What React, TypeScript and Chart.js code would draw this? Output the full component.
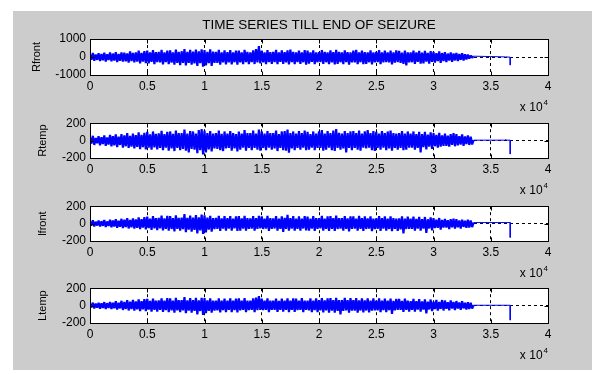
import React, { useEffect, useRef } from "react";
import { Chart, registerables } from "chart.js";

Chart.register(...registerables);

// ---------------- data ----------------
const TITLE = "TIME SERIES TILL END OF SEIZURE";
const CHANNELS = ["Rfront", "Rtemp", "lfront", "Ltemp"];
const X_TICK_LABELS = ["0", "0.5", "1", "1.5", "2", "2.5", "3", "3.5", "4"];
const X_MAX = 40000;
const X_STEP = 5000;
const EXP_BASE = "x 10";
const EXP_POWER = "4";
const Y_RANGES = [1000, 200, 200, 200];
const SAMPLE_STEP = 250; // one max/min pair read every 250 samples (0 .. 33500)

// per-window maxima / minima of the dense signal
const RFRONT_HI = [
  150, 220, 140, 210, 170, 240, 150, 250, 190, 270, 170, 260, 240, 200, 310, 230,
  250, 360, 230, 320, 350, 250, 380, 270, 280, 390, 250, 350, 370, 260, 410, 290,
  320, 440, 290, 390, 300, 410, 310, 430, 380, 290, 420, 300, 280, 400, 260, 370,
  270, 380, 260, 350, 360, 260, 390, 280, 260, 370, 440, 610, 360, 260, 380, 270,
  280, 390, 260, 370, 270, 370, 410, 280, 260, 360, 250, 380, 350, 250, 370, 260,
  270, 380, 280, 260, 370, 270, 400, 290, 260, 370, 270, 250, 360, 390, 260, 350,
  270, 250, 370, 260, 280, 380, 260, 360, 250, 350, 260, 370, 340, 240, 360, 260,
  260, 350, 250, 340, 240, 340, 230, 330, 290, 210, 310, 220, 270, 190, 250, 200,
  230, 170, 210, 150, 130, 80, 45,
];
const RFRONT_LO = [
  -150, -210, -160, -230, -180, -250, -170, -240, -200, -280, -210, -250, -240, -310, -230, -300,
  -260, -350, -250, -340, -360, -270, -390, -280, -300, -410, -280, -390, -310, -430, -320, -450,
  -330, -470, -320, -430, -350, -490, -340, -530, -460, -340, -500, -330, -320, -430, -300, -410,
  -300, -410, -290, -420, -300, -400, -290, -390, -280, -390, -300, -360, -300, -400, -280, -380,
  -290, -390, -270, -380, -300, -410, -290, -390, -280, -380, -290, -430, -370, -270, -390, -290,
  -280, -380, -290, -390, -300, -410, -380, -290, -390, -290, -430, -300, -300, -400, -290, -390,
  -380, -290, -410, -300, -290, -390, -300, -280, -300, -410, -310, -290, -320, -380, -470, -300,
  -290, -380, -270, -370, -350, -260, -370, -270, -310, -230, -320, -220, -280, -200, -270, -190,
  -230, -160, -190, -130, -90, -40, 45,
];
const RTEMP_HI = [
  35, 55, 30, 50, 40, 60, 35, 65, 50, 72, 45, 75, 60, 85, 55, 80,
  62, 95, 65, 90, 100, 72, 105, 78, 82, 112, 75, 100, 105, 78, 115, 85,
  85, 128, 80, 110, 105, 80, 120, 132, 115, 85, 110, 80, 85, 115, 78, 105,
  80, 110, 85, 75, 105, 80, 120, 85, 85, 115, 80, 128, 105, 80, 110, 85,
  85, 115, 75, 105, 110, 128, 85, 105, 80, 110, 85, 115, 100, 75, 105, 80,
  105, 120, 80, 110, 85, 115, 132, 90, 80, 110, 85, 105, 110, 85, 115, 80,
  105, 120, 85, 110, 100, 80, 110, 85, 105, 115, 85, 80, 85, 110, 80, 105,
  80, 105, 75, 100, 75, 100, 70, 95, 85, 65, 90, 60, 80, 58, 75, 85,
  75, 52, 70, 48, 60, 45, 5,
];
const RTEMP_LO = [
  -35, -50, -30, -55, -40, -60, -45, -65, -55, -75, -50, -80, -65, -85, -70, -90,
  -72, -98, -75, -100, -80, -105, -78, -100, -85, -110, -82, -115, -90, -120, -85, -110,
  -95, -115, -135, -95, -105, -145, -110, -158, -135, -100, -125, -90, -95, -110, -120, -90,
  -85, -115, -90, -125, -105, -80, -115, -85, -110, -85, -105, -115, -85, -110, -80, -105,
  -90, -120, -85, -110, -115, -140, -90, -110, -85, -105, -80, -110, -105, -80, -110, -85,
  -85, -115, -105, -80, -110, -120, -85, -105, -90, -135, -85, -110, -85, -105, -115, -80,
  -90, -80, -110, -120, -85, -105, -80, -110, -90, -115, -85, -105, -85, -110, -105, -80,
  -80, -105, -85, -135, -75, -100, -70, -95, -65, -80, -70, -60, -60, -70, -50, -65,
  -55, -45, -60, -40, -50, -45, 5,
];
const LFRONT_HI = [
  25, 38, 22, 36, 28, 42, 25, 45, 35, 50, 32, 55, 45, 62, 42, 60,
  48, 72, 50, 75, 80, 58, 85, 62, 65, 92, 60, 88, 85, 62, 95, 65,
  70, 108, 65, 92, 68, 98, 72, 104, 95, 68, 90, 62, 65, 88, 60, 85,
  62, 86, 58, 82, 85, 60, 90, 62, 60, 85, 62, 90, 82, 58, 88, 62,
  60, 85, 58, 82, 65, 100, 62, 86, 58, 82, 56, 85, 80, 58, 86, 62,
  62, 88, 58, 84, 85, 62, 92, 64, 62, 86, 60, 84, 82, 58, 88, 62,
  84, 60, 82, 58, 60, 86, 62, 82, 58, 84, 62, 56, 60, 82, 56, 80,
  56, 80, 54, 76, 52, 76, 50, 72, 62, 44, 64, 42, 54, 40, 52, 56,
  50, 36, 46, 34, 44, 36, 12,
];
const LFRONT_LO = [
  -24, -34, -22, -33, -26, -38, -28, -42, -34, -48, -36, -52, -40, -56, -42, -58,
  -48, -64, -45, -66, -52, -72, -54, -74, -56, -78, -60, -80, -62, -90, -60, -82,
  -64, -98, -68, -92, -72, -112, -78, -120, -100, -68, -92, -64, -60, -84, -58, -82,
  -58, -80, -55, -84, -80, -58, -82, -60, -58, -80, -60, -56, -62, -58, -84, -60,
  -56, -80, -60, -94, -60, -82, -58, -80, -60, -82, -56, -78, -80, -58, -84, -60,
  -56, -80, -60, -84, -60, -84, -62, -58, -82, -60, -90, -62, -58, -82, -60, -84,
  -62, -58, -86, -62, -60, -84, -58, -82, -62, -86, -60, -84, -66, -114, -62, -60,
  -60, -82, -58, -80, -58, -106, -56, -78, -52, -48, -70, -46, -46, -62, -44, -58,
  -42, -58, -38, -48, -45, -40, 12,
];
const LTEMP_HI = [
  24, 34, 22, 33, 26, 40, 28, 42, 32, 50, 34, 55, 42, 62, 44, 66,
  48, 72, 50, 74, 76, 54, 80, 58, 60, 84, 58, 86, 82, 58, 88, 62,
  64, 98, 60, 86, 62, 88, 60, 90, 86, 60, 84, 58, 56, 82, 56, 80,
  58, 84, 56, 80, 82, 56, 86, 58, 56, 82, 92, 108, 80, 56, 84, 58,
  56, 80, 54, 80, 58, 84, 56, 82, 80, 56, 86, 58, 56, 82, 58, 84,
  62, 86, 60, 84, 86, 62, 90, 64, 64, 88, 62, 86, 62, 86, 60, 84,
  60, 84, 58, 82, 58, 82, 56, 80, 56, 80, 54, 78, 78, 54, 80, 56,
  52, 76, 50, 74, 48, 72, 46, 70, 44, 66, 42, 64, 58, 40, 60, 42,
  52, 36, 50, 34, 38, 34, 4,
];
const LTEMP_LO = [
  -22, -32, -24, -35, -26, -38, -28, -40, -30, -46, -32, -50, -38, -56, -40, -58,
  -42, -62, -44, -64, -46, -68, -48, -70, -50, -72, -52, -74, -54, -80, -56, -76,
  -56, -86, -58, -82, -60, -100, -62, -106, -86, -60, -82, -56, -54, -78, -52, -76,
  -50, -74, -52, -78, -54, -50, -76, -52, -50, -74, -52, -48, -52, -48, -74, -50,
  -48, -72, -50, -70, -50, -74, -48, -72, -52, -48, -74, -50, -54, -76, -52, -74,
  -56, -78, -54, -80, -58, -82, -60, -100, -60, -56, -82, -58, -58, -80, -56, -78,
  -56, -78, -58, -54, -54, -76, -52, -74, -52, -94, -54, -50, -50, -72, -48, -70,
  -48, -70, -46, -68, -46, -90, -44, -64, -40, -58, -38, -56, -36, -54, -34, -50,
  -34, -48, -32, -44, -38, -34, 4,
];

// flat tail after the seizure end, ending with a single drop
const RFRONT_TAIL_X = [33500, 35000, 36300, 36700, 36700];
const RFRONT_TAIL_Y = [45, 25, 5, -10, -450];
const RTEMP_TAIL_X = [33500, 36200, 36300, 36400, 36700, 36700];
const RTEMP_TAIL_Y = [5, 5, 12, 5, 5, -155];
const LFRONT_TAIL_X = [33500, 36700, 36700];
const LFRONT_TAIL_Y = [12, 12, -160];
const LTEMP_TAIL_X = [33500, 36700, 36700];
const LTEMP_TAIL_Y = [4, 4, -167];

const HI = [RFRONT_HI, RTEMP_HI, LFRONT_HI, LTEMP_HI];
const LO = [RFRONT_LO, RTEMP_LO, LFRONT_LO, LTEMP_LO];
const TAIL_X = [RFRONT_TAIL_X, RTEMP_TAIL_X, LFRONT_TAIL_X, LTEMP_TAIL_X];
const TAIL_Y = [RFRONT_TAIL_Y, RTEMP_TAIL_Y, LFRONT_TAIL_Y, LTEMP_TAIL_Y];

// ---------------- layout ----------------
const FONT = '"Liberation Sans", Arial, Helvetica, sans-serif';
const PLOT_TOPS = [39, 122, 205, 287];
const PLOT_H = 36;
const PAD_TOPS = [28, 10, 10, 10];
const X_AXIS_H = 40;
const Y_TITLE_PAD = [10, 16, 16, 16];
const BLUE = "#0000ff";

const framePlugin = {
  id: "frame",
  beforeDraw(chart: any) {
    const { ctx, chartArea: a } = chart;
    ctx.save();
    ctx.fillStyle = "#ffffff";
    ctx.fillRect(a.left, a.top, a.right - a.left, a.bottom - a.top);
    ctx.restore();
  },
  afterDraw(chart: any, _args: any, opts: any) {
    const { ctx, chartArea: a, scales } = chart;
    const x = scales.x;
    const y = scales.y;
    ctx.save();
    ctx.strokeStyle = "#000";
    ctx.lineWidth = 1;
    ctx.setLineDash([]);
    const L = Math.round(a.left) + 0.5;
    const R = Math.round(a.right) + 0.5;
    const T = Math.round(a.top) + 0.5;
    const B = Math.round(a.bottom) + 0.5;
    ctx.strokeRect(L, T, R - L, B - T);
    ctx.beginPath();
    x.ticks.forEach((t: any) => {
      const px = Math.round(x.getPixelForValue(t.value)) + 0.5;
      ctx.moveTo(px, T);
      ctx.lineTo(px, T + 4);
      ctx.moveTo(px, B);
      ctx.lineTo(px, B - 4);
    });
    y.ticks.forEach((t: any) => {
      const py = Math.round(y.getPixelForValue(t.value)) + 0.5;
      ctx.moveTo(L, py);
      ctx.lineTo(L + 4, py);
      ctx.moveTo(R, py);
      ctx.lineTo(R - 4, py);
    });
    ctx.stroke();
    ctx.fillStyle = "#000";
    ctx.textBaseline = "middle";
    ctx.textAlign = "right";
    ctx.font = `8px ${FONT}`;
    ctx.fillText(EXP_POWER, a.right, a.bottom + 28);
    const w = ctx.measureText(EXP_POWER).width;
    ctx.font = `12px ${FONT}`;
    ctx.fillText(EXP_BASE, a.right - w - 1, a.bottom + 33);
    if (opts && opts.title) {
      ctx.textAlign = "center";
      ctx.font = `13.5px ${FONT}`;
      ctx.fillText(opts.title, (a.left + a.right) / 2, a.top - 14);
    }
    ctx.restore();
  },
};

function makeConfig(i: number): any {
  const range = Y_RANGES[i];
  // plot each window's maximum then its minimum, like a decimated waveform
  const wave: { x: number; y: number }[] = [];
  HI[i].forEach((v, k) => {
    wave.push({ x: k * SAMPLE_STEP, y: v });
    if (k < HI[i].length - 1) wave.push({ x: k * SAMPLE_STEP + SAMPLE_STEP / 2, y: LO[i][k] });
  });
  const tail = TAIL_X[i].map((xv, k) => ({ x: xv, y: TAIL_Y[i][k] }));
  return {
    type: "line",
    data: {
      datasets: [
        { data: wave, borderColor: BLUE, borderWidth: 2.2, borderJoinStyle: "bevel", pointRadius: 0, fill: false, tension: 0 },
        { data: tail, borderColor: BLUE, borderWidth: 1, borderJoinStyle: "bevel", pointRadius: 0, fill: false, tension: 0 },
      ],
    },
    options: {
      responsive: false,
      animation: false,
      devicePixelRatio: 1,
      events: [],
      layout: { padding: { left: 20, right: 44, top: PAD_TOPS[i], bottom: 0 } },
      plugins: {
        legend: { display: false },
        tooltip: { enabled: false },
        frame: { title: i === 0 ? TITLE : "" },
      },
      scales: {
        x: {
          type: "linear",
          min: 0,
          max: X_MAX,
          afterFit: (s: any) => {
            s.height = X_AXIS_H;
          },
          ticks: {
            stepSize: X_STEP,
            autoSkip: false,
            maxRotation: 0,
            padding: 4,
            color: "#000",
            font: { size: 12, family: FONT },
            callback: (_v: any, idx: number) => X_TICK_LABELS[idx],
          },
          grid: { color: "#000", lineWidth: 1, drawTicks: false },
          border: { display: false, dash: [3, 3] },
        },
        y: {
          type: "linear",
          min: -range,
          max: range,
          afterFit: (s: any) => {
            s.width = 70;
          },
          ticks: {
            stepSize: range,
            padding: 4,
            color: "#000",
            font: { size: 12, family: FONT },
            callback: (v: any) => String(v),
          },
          grid: { color: "#000", lineWidth: 1, drawTicks: false },
          border: { display: false, dash: [3, 3] },
          title: {
            display: true,
            text: CHANNELS[i],
            color: "#000",
            font: { size: 11, family: FONT },
            padding: { top: Y_TITLE_PAD[i], bottom: 0 },
          },
        },
      },
    },
    plugins: [framePlugin],
  };
}

export default function App() {
  const refs = [useRef<HTMLCanvasElement>(null), useRef<HTMLCanvasElement>(null), useRef<HTMLCanvasElement>(null), useRef<HTMLCanvasElement>(null)];

  useEffect(() => {
    const charts: Chart[] = [];
    refs.forEach((r, i) => {
      if (r.current) charts.push(new Chart(r.current, makeConfig(i)));
    });
    return () => charts.forEach((c) => c.destroy());
  }, []);

  return (
    <div style={{ position: "fixed", left: 0, top: 0, width: 592, height: 374, background: "#ffffff", overflow: "hidden" }}>
      <div style={{ position: "absolute", left: 13, top: 11, width: 579, height: 359, background: "#cccccc" }} />
      {refs.map((r, i) => {
        const top = PLOT_TOPS[i] - PAD_TOPS[i];
        const h = PAD_TOPS[i] + PLOT_H + X_AXIS_H;
        return (
          <canvas
            key={i}
            ref={r}
            width={592}
            height={h}
            style={{ position: "absolute", left: 0, top, width: 592, height: h, display: "block" }}
          />
        );
      })}
    </div>
  );
}
